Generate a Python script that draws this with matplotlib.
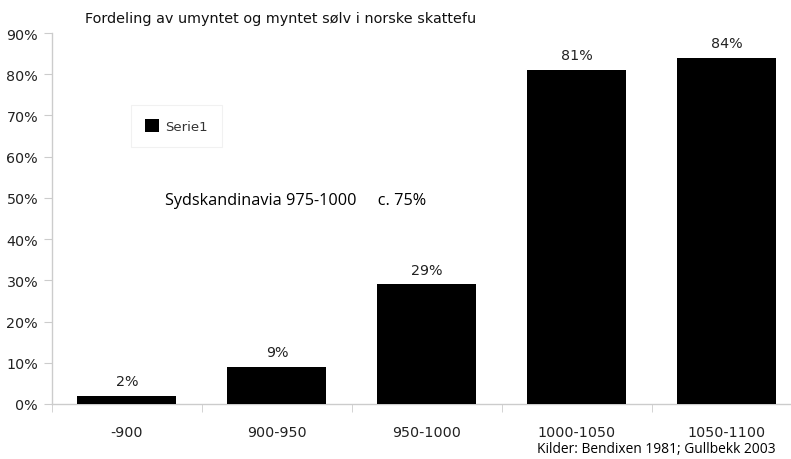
import matplotlib
matplotlib.use("Agg")
import matplotlib.pyplot as plt
from matplotlib.patches import Patch
from matplotlib.ticker import PercentFormatter, FixedLocator

categories = ["-900", "900-950", "950-1000", "1000-1050", "1050-1100"]
values = [2, 9, 29, 81, 84]
value_labels = ["2%", "9%", "29%", "81%", "84%"]
yticks = [0, 10, 20, 30, 40, 50, 60, 70, 80, 90]
title = "Fordeling av umyntet og myntet sølv i norske skattefu"
series_name = "Serie1"
note = "Sydskandinavia 975-1000     c. 75%"
source = "Kilder: Bendixen 1981; Gullbekk 2003"

W, H = 791, 460
fig = plt.figure(figsize=(W / 100, H / 100), dpi=100)
ax = fig.add_axes([52 / W, 55 / H, (W - 52) / W, 371 / H])

x = list(range(len(categories)))
ax.bar(x, values, width=0.66, color="black", zorder=3)
for xi, v, lab in zip(x, values, value_labels):
    ax.annotate(lab, (xi, v), xytext=(0, 5.5), textcoords="offset points",
                ha="center", va="bottom", fontsize=10.3, color="#222222",
                family="DejaVu Sans")

ax.set_ylim(0, 90)
ax.set_xlim(-0.5, 4.427)
ax.set_yticks(yticks)
ax.yaxis.set_major_formatter(PercentFormatter(decimals=0))
ax.set_xticks(x)
ax.set_xticklabels(categories)
ax.xaxis.set_minor_locator(FixedLocator([i + 0.5 for i in range(-1, len(categories))]))
ax.tick_params(axis="x", which="major", length=0, pad=15, labelsize=10.3, labelcolor="#222222")
ax.tick_params(axis="x", which="minor", length=6, color="#cccccc", direction="out")
ax.tick_params(axis="y", length=6, color="#cccccc", labelsize=10.3, labelcolor="#222222", pad=4)

for s in ["top", "right"]:
    ax.spines[s].set_visible(False)
for s in ["left", "bottom"]:
    ax.spines[s].set_color("#cccccc")
    ax.spines[s].set_linewidth(1)

fig.text(85 / W, 1 - 19 / H, title, ha="left", va="center", fontsize=10.4,
         family="DejaVu Sans", color="#111111")

leg = ax.legend(handles=[Patch(facecolor="black", label=series_name)],
                loc="upper left", bbox_to_anchor=((131 - 52) / (W - 52), (405 - 106) / 371),
                borderaxespad=0, frameon=True, handlelength=1.1, handleheight=1.1,
                handletextpad=0.45, borderpad=1.05, fancybox=False,
                prop={"family": "DejaVu Sans", "size": 9.5})
leg.get_frame().set_edgecolor("#eeeeee")
leg.get_frame().set_linewidth(0.8)
for t in leg.get_texts():
    t.set_color("#333333")

fig.text(165 / W, 1 - 201 / H, note, ha="left", va="center", fontsize=11.7,
         family="Open Sans", color="black")
fig.text(537 / W, 1 - 450 / H, source, ha="left", va="center", fontsize=9.9,
         family="Open Sans", color="black")

fig.savefig("out.png", dpi=100)
